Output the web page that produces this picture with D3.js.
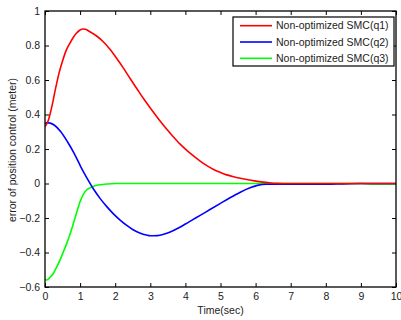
<!DOCTYPE html>
<html>
<head>
<meta charset="utf-8">
<script src="https://cdn.jsdelivr.net/npm/d3@7"></script>
<style>
body { margin:0; background:#fff; }
text { font-family: "Liberation Sans", Arial, sans-serif; fill:#222; }
</style>
</head>
<body>
<svg id="chart" width="401" height="320"></svg>
<script>
const xTicks = [0,1,2,3,4,5,6,7,8,9,10];
const yTicks = [-0.6,-0.4,-0.2,0,0.2,0.4,0.6,0.8,1];
const seriesNames = ["Non-optimized SMC(q1)","Non-optimized SMC(q2)","Non-optimized SMC(q3)"];
const seriesColors = ["#ff0000","#0000ff","#00ff00"];

const q1T = [0,0.05,0.1,0.2,0.3,0.4,0.5,0.6,0.7,0.8,0.9,1.0,1.07,1.15,1.28,1.47,1.66,1.85,2.04,2.23,2.42,2.61,2.8,3.02,3.25,3.47,3.66,3.85,4.04,4.23,4.42,4.6,4.79,5.0,5.18,5.37,5.56,5.82,6.1,6.35,6.6,7,8,9,10];
const q1V = [0.33,0.345,0.37,0.45,0.55,0.64,0.71,0.77,0.81,0.845,0.872,0.89,0.896,0.894,0.88,0.855,0.822,0.778,0.726,0.67,0.61,0.552,0.494,0.432,0.37,0.315,0.27,0.228,0.192,0.16,0.13,0.105,0.083,0.064,0.05,0.039,0.03,0.02,0.011,0.005,0.001,0,0,0,0];

const q2T = [0,0.07,0.15,0.26,0.45,0.64,0.83,1.02,1.2,1.4,1.59,1.76,1.95,2.14,2.33,2.51,2.7,2.89,3.0,3.2,3.4,3.6,3.8,4.0,4.2,4.42,4.7,5.0,5.27,5.55,5.84,6.05,6.3,7,8,8.5,9,10];
const q2V = [0.35,0.352,0.35,0.339,0.30,0.242,0.175,0.097,0.03,-0.038,-0.092,-0.134,-0.176,-0.212,-0.243,-0.268,-0.287,-0.299,-0.303,-0.302,-0.293,-0.278,-0.258,-0.235,-0.211,-0.185,-0.151,-0.115,-0.083,-0.052,-0.025,-0.011,-0.004,-0.004,-0.004,-0.002,0,0];

const q3T = [0,0.05,0.14,0.24,0.33,0.43,0.52,0.62,0.72,0.81,0.9,1.0,1.1,1.2,1.34,1.5,1.76,2.0,3,5,7,9,9.4,10];
const q3V = [-0.555,-0.559,-0.545,-0.52,-0.485,-0.443,-0.398,-0.347,-0.29,-0.231,-0.17,-0.105,-0.06,-0.035,-0.02,-0.009,-0.003,0,0,0,0,0,-0.004,-0.004];

const svg = d3.select("#chart");
const L = 45, R = 396, T = 11, B = 287;
const x = d3.scaleLinear().domain([0,10]).range([L,R]);
const y = d3.scaleLinear().domain([-0.6,1]).range([B,T]);

svg.append("rect").attr("x",0).attr("y",0).attr("width",401).attr("height",320).attr("fill","#fff");

const fmt = d => (d===0?"0":(d===1?"1":d3.format(".1f")(d)));

svg.append("g").attr("transform",`translate(0,${B})`)
  .call(d3.axisBottom(x).tickValues(xTicks).tickSize(-4).tickSizeOuter(0).tickPadding(6).tickFormat(d=>d));
svg.append("g").attr("transform",`translate(${L},0)`)
  .call(d3.axisLeft(y).tickValues(yTicks).tickSize(-4).tickSizeOuter(0).tickPadding(5).tickFormat(fmt));
svg.append("g").attr("transform",`translate(0,${T})`)
  .call(d3.axisTop(x).tickValues(xTicks).tickSize(-4).tickSizeOuter(0).tickFormat(""));
svg.append("g").attr("transform",`translate(${R},0)`)
  .call(d3.axisRight(y).tickValues(yTicks).tickSize(-4).tickSizeOuter(0).tickFormat(""));
svg.selectAll(".domain").remove();
svg.selectAll(".tick line").attr("stroke","#000").attr("stroke-width",1);
svg.selectAll(".tick text").attr("font-size",10.5).attr("fill","#222").style("font-family","'Liberation Sans', Arial, sans-serif");

const series = [[q1T,q1V],[q2T,q2V],[q3T,q3V]];
const line = d3.line().x(d=>x(d[0])).y(d=>y(d[1])).curve(d3.curveMonotoneX);
svg.append("clipPath").attr("id","clp").append("rect").attr("x",L).attr("y",T).attr("width",R-L).attr("height",B-T);
[2,1,0].forEach(i=>{
  const pts = series[i][0].map((t,k)=>[t,series[i][1][k]]);
  svg.append("path").attr("d",line(pts)).attr("fill","none")
    .attr("stroke",seriesColors[i]).attr("stroke-width",1.6).attr("clip-path","url(#clp)");
});

svg.append("rect").attr("x",L).attr("y",T).attr("width",R-L).attr("height",B-T)
  .attr("fill","none").attr("stroke","#000").attr("stroke-width",1.3);

const lg = svg.append("g");
lg.append("rect").attr("x",233).attr("y",17).attr("width",161).attr("height",49)
  .attr("fill","#fff").attr("stroke","#000").attr("stroke-width",1.2);
seriesNames.forEach((n,i)=>{
  const yy = 25.7 + i*16.3;
  lg.append("line").attr("x1",240).attr("x2",272).attr("y1",yy).attr("y2",yy)
    .attr("stroke",seriesColors[i]).attr("stroke-width",1.6);
  lg.append("text").attr("x",276).attr("y",yy).attr("dy","0.35em").attr("font-size",10.5).text(n);
});

svg.append("text").attr("x",(L+R)/2).attr("y",314).attr("text-anchor","middle").attr("font-size",10.5).text("Time(sec)");
svg.append("text").attr("transform",`translate(16,${(T+B)/2+1}) rotate(-90)`).attr("text-anchor","middle").attr("font-size",10.5).text("error of position control (meter)");
</script>
</body>
</html>
